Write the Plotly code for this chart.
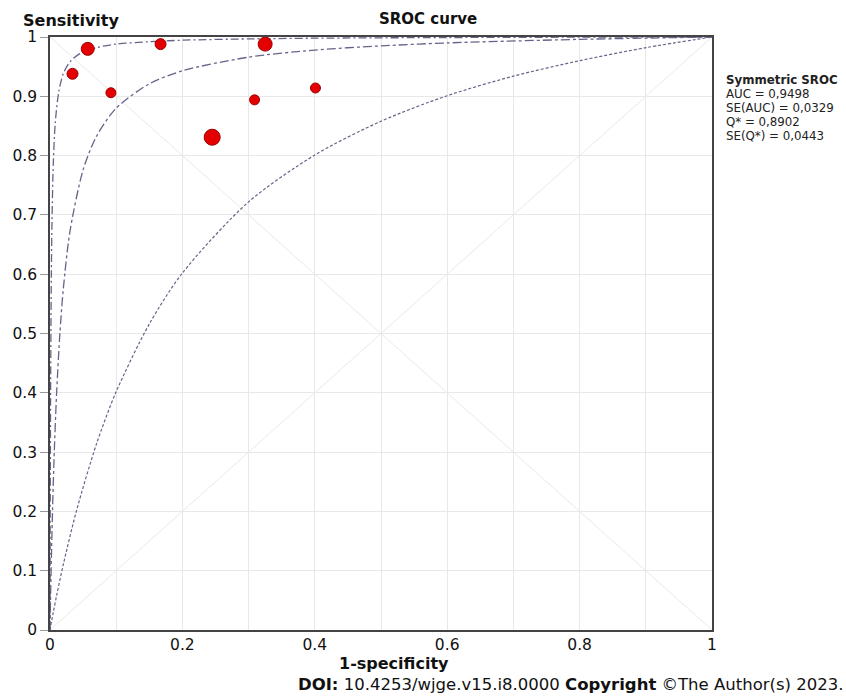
import plotly.graph_objects as go

# ---- data ----
study_fpr = [0.034, 0.057, 0.092, 0.167, 0.325, 0.245, 0.309, 0.401]
study_sens = [0.938, 0.980, 0.906, 0.988, 0.988, 0.831, 0.894, 0.914]

# upper curve
upper_fpr = [0, 0.0005, 0.001, 0.002, 0.003, 0.005, 0.008, 0.013, 0.02, 0.03, 0.045,
             0.07, 0.1, 0.15, 0.2, 0.3, 0.4, 0.6, 0.8, 1]
upper_sens = [0, 0.27, 0.42, 0.596, 0.69, 0.787, 0.856, 0.906, 0.938, 0.958, 0.972,
              0.982, 0.988, 0.992, 0.9946, 0.9968, 0.998, 0.9991, 0.9997, 1]

# symmetric SROC curve
sroc_fpr = [0, 0.001, 0.003, 0.006, 0.01, 0.015, 0.02, 0.03, 0.05, 0.07, 0.1, 0.15,
            0.2, 0.3, 0.4, 0.5, 0.6, 0.8, 1]
sroc_sens = [0, 0.062, 0.166, 0.285, 0.40, 0.501, 0.574, 0.671, 0.776, 0.832, 0.88,
             0.921, 0.943, 0.966, 0.978, 0.985, 0.990, 0.996, 1]

# lower curve
lower_fpr = [0, 0.005, 0.01, 0.02, 0.04, 0.07, 0.1, 0.15, 0.2, 0.3, 0.4, 0.5, 0.6,
             0.7, 0.8, 0.9, 1]
lower_sens = [0, 0.03, 0.058, 0.11, 0.201, 0.313, 0.402, 0.516, 0.602, 0.722, 0.801,
              0.858, 0.901, 0.934, 0.96, 0.982, 1]

diag_x = [0, 1]
diag_up = [0, 1]
diag_down = [1, 0]

x_ticks = [0, 0.1, 0.2, 0.3, 0.4, 0.5, 0.6, 0.7, 0.8, 0.9, 1]
x_ticktext = ["0", "", "0.2", "", "0.4", "", "0.6", "", "0.8", "", "1"]
y_ticks = [0, 0.1, 0.2, 0.3, 0.4, 0.5, 0.6, 0.7, 0.8, 0.9, 1]
y_ticktext = ["0", "0.1", "0.2", "0.3", "0.4", "0.5", "0.6", "0.7", "0.8", "0.9", "1"]

stats_title = "Symmetric SROC"
stats_lines = ["AUC = 0,9498", "SE(AUC) = 0,0329", "Q* = 0,8902", "SE(Q*) = 0,0443"]

# ---- styles ----
marker_sizes = [11, 13, 10, 11, 14, 16, 10, 10]
curve_color = "#64648a"
diag_color = "#e9e9e9"
grid_color = "#e8e8e8"

fig = go.Figure()

fig.add_trace(go.Scatter(x=diag_x, y=diag_up, mode="lines",
                         line=dict(color=diag_color, width=1),
                         hoverinfo="skip", showlegend=False))
fig.add_trace(go.Scatter(x=diag_x, y=diag_down, mode="lines",
                         line=dict(color=diag_color, width=1),
                         hoverinfo="skip", showlegend=False))

fig.add_trace(go.Scatter(x=lower_fpr, y=lower_sens, mode="lines",
                         line=dict(color=curve_color, width=1.2, dash="3px,2px",
                                   shape="spline", smoothing=0.8),
                         showlegend=False))
fig.add_trace(go.Scatter(x=sroc_fpr, y=sroc_sens, mode="lines",
                         line=dict(color=curve_color, width=1.3, dash="dashdot",
                                   shape="spline", smoothing=0.8),
                         showlegend=False))
fig.add_trace(go.Scatter(x=upper_fpr, y=upper_sens, mode="lines",
                         line=dict(color=curve_color, width=1.3, dash="8px,3px,2px,3px",
                                   shape="spline", smoothing=0.8),
                         showlegend=False))

fig.add_trace(go.Scatter(x=study_fpr, y=study_sens, mode="markers",
                         marker=dict(size=marker_sizes, color="#e40000", opacity=1,
                                     line=dict(color="#9a0000", width=1)),
                         cliponaxis=False, showlegend=False))

axis_font = dict(family="DejaVu Sans", size=15.5, color="#111111")

fig.update_xaxes(range=[0, 1], tickvals=x_ticks, ticktext=x_ticktext,
                 showgrid=True, gridcolor=grid_color, gridwidth=1,
                 zeroline=False, showline=True, linecolor="#444444", linewidth=1.5,
                 mirror=True, ticks="", tickfont=axis_font)
fig.update_yaxes(range=[0, 1], tickvals=y_ticks, ticktext=y_ticktext,
                 showgrid=True, gridcolor=grid_color, gridwidth=1,
                 zeroline=False, showline=True, linecolor="#444444", linewidth=1.5,
                 mirror=True, ticks="outside", ticklen=8, tickcolor="#999999",
                 tickfont=axis_font)

L, R, T, B = 48, 134, 37, 66
W, H = 846, 696
pw, ph = W - L - R, H - T - B


def px_x(px):
    return (px - L) / pw


def px_y(py):
    return 1 - (py - T) / ph


title_font = dict(family="DejaVu Sans", size=16, color="#111111")
stats_font = dict(family="DejaVu Sans", size=11.8, color="#222222")
annotations = [
    dict(text="<b>Sensitivity</b>", x=px_x(20), y=px_y(20), xanchor="left",
         yanchor="middle", font=title_font),
    dict(text="<b>SROC curve</b>", x=px_x(427), y=px_y(19), xanchor="center",
         yanchor="middle", font=dict(family="DejaVu Sans", size=15, color="#111111")),
    dict(text="<b>1-specificity</b>", x=px_x(393), y=px_y(663), xanchor="center",
         yanchor="middle", font=title_font),
    dict(text="<b>DOI:</b> 10.4253/wjge.v15.i8.0000 <b>Copyright</b> ©The Author(s) 2023.",
         x=px_x(844), y=px_y(684), xanchor="right", yanchor="middle",
         font=dict(family="DejaVu Sans", size=16.5, color="#111111")),
    dict(text="<b>" + stats_title + "</b>", x=px_x(725), y=px_y(80), xanchor="left",
         yanchor="middle", font=stats_font),
]
for i, line in enumerate(stats_lines):
    annotations.append(dict(text=line, x=px_x(725), y=px_y(94 + 14 * i), xanchor="left",
                            yanchor="middle", font=stats_font))

for a in annotations:
    a.update(xref="paper", yref="paper", showarrow=False, borderpad=0)

fig.update_layout(width=W, height=H, margin=dict(l=L, r=R, t=T, b=B),
                  plot_bgcolor="white", paper_bgcolor="white",
                  annotations=annotations, showlegend=False)

fig.write_html("out.html", config={"displayModeBar": False},
               post_script="document.body.style.margin='0';document.body.style.padding='0';")
